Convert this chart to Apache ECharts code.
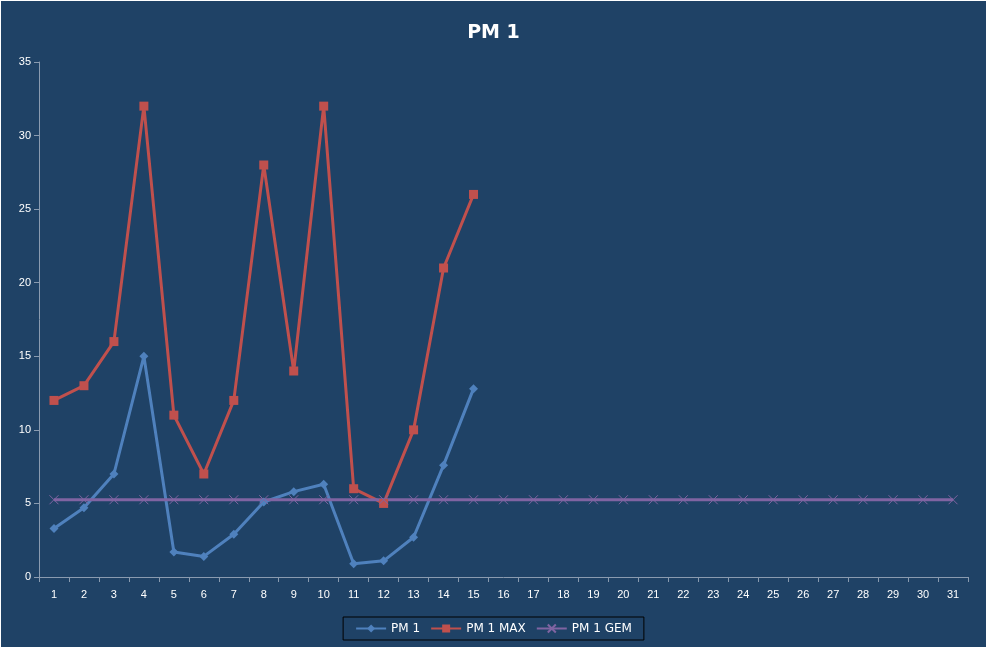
<!DOCTYPE html><html><head><meta charset="utf-8"><script src="https://cdn.jsdelivr.net/npm/echarts@6/dist/echarts.min.js"></script>
<style>html,body{margin:0;background:#fff}#c{width:985px;height:646px;margin:1px;background:#1F4266}</style></head><body><div id="c"></div><script>
const categories=Array.from({length:31},(_,i)=>String(i+1));
const pm1=[3.3,4.7,7.0,15.0,1.7,1.4,2.9,5.1,5.8,6.3,0.9,1.1,2.7,7.6,12.8];
const pm1max=[12,13,16,32,11,7,12,28,14,32,6,5,10,21,26];
const pm1gem=categories.map(()=>5.25);
const yTicks={min:0,max:35,interval:5};
const c=echarts.init(document.getElementById('c'));
const ax={lineStyle:{color:'#8a9bb0'}};
c.setOption({
 animation:false,
 title:{text:'PM 1',left:'center',top:18,textStyle:{color:'#fff',fontSize:19,fontWeight:'bold',fontFamily:'DejaVu Sans'}},
 legend:{bottom:7,left:'center',itemWidth:30,itemHeight:10,itemGap:10,padding:[5,12],borderColor:'#000',borderWidth:1,textStyle:{color:'#fff',fontSize:12,fontFamily:'DejaVu Sans'},data:['PM 1','PM 1 MAX','PM 1 GEM']},
 grid:{left:38,right:18,top:61,bottom:70},
 xAxis:{type:'category',data:categories,boundaryGap:true,axisLine:ax,axisTick:{show:true,lineStyle:{color:'#8a9bb0'}},axisLabel:{color:'#fff',fontSize:11,margin:12}},
 yAxis:{type:'value',...yTicks,axisLine:{show:true,...ax},axisTick:{show:true,lineStyle:{color:'#8a9bb0'}},splitLine:{show:false},axisLabel:{color:'#fff',fontSize:11}},
 series:[
  {name:'PM 1',type:'line',data:pm1,symbol:'diamond',symbolSize:9,lineStyle:{width:3,color:'#4F81BD'},itemStyle:{color:'#4F81BD'}},
  {name:'PM 1 MAX',type:'line',data:pm1max,symbol:'rect',symbolSize:9,lineStyle:{width:3,color:'#C0504D'},itemStyle:{color:'#C0504D'}},
  {name:'PM 1 GEM',type:'line',data:pm1gem,symbol:'path://M0,0L10,10M10,0L0,10',symbolSize:9,lineStyle:{width:3,color:'#8064A2'},itemStyle:{color:'none',borderColor:'#8064A2',borderWidth:1}}
 ]
});
</script></body></html>
